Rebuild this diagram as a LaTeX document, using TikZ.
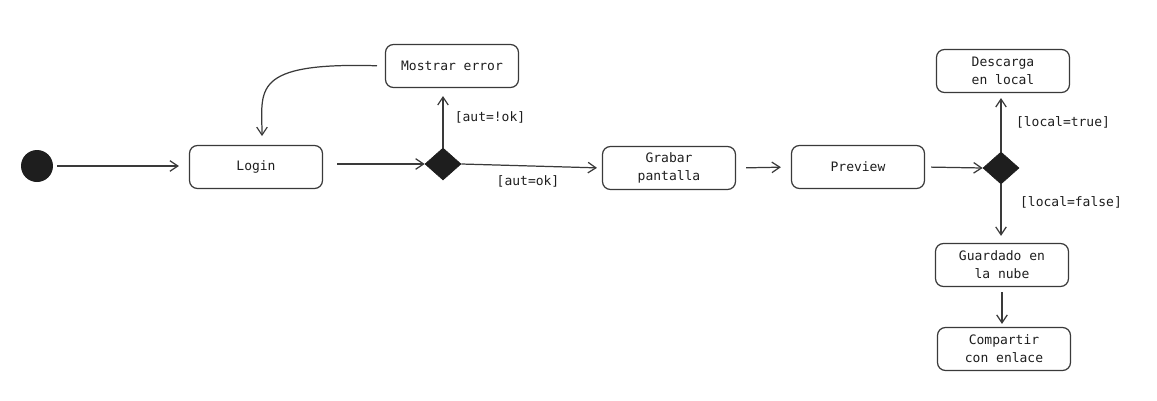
\documentclass[tikz,border=0pt]{standalone}
\usepackage{fontspec}
\setmonofont{DejaVu Sans Mono}
\usetikzlibrary{arrows.meta,shapes.geometric}
\definecolor{ink}{HTML}{3A3A3A}
\definecolor{txt}{HTML}{1E1E1E}
\begin{document}
\begin{tikzpicture}[x=0.02cm,y=-0.02cm,
  state/.style={draw=ink,line width=0.7pt,rounded corners=4.5pt,minimum width=2.66cm,minimum height=0.86cm,inner sep=0pt,font=\ttfamily\fontsize{7.4}{10.2}\selectfont,text=txt,align=center},
  choice/.style={diamond,fill=txt,draw=txt,minimum width=0.72cm,minimum height=0.64cm,inner sep=0pt},
  initial/.style={circle,fill=txt,minimum size=0.64cm,inner sep=0pt},
  flow/.style={draw=ink,line width=0.7pt,-{Straight Barb[length=4.5pt,width=6pt]}},
  guard/.style={font=\ttfamily\fontsize{7.4}{10.2}\selectfont,text=txt,inner sep=0pt}]
\useasboundingbox (0,0) rectangle (1157,400);

\node[initial] (start) at (37,166) {};
\node[state] (login) at (256,167) {Login};
\node[choice] (d1) at (443,164) {};
\node[state] (err) at (452,66) {Mostrar error};
\node[state] (grab) at (669,168) {Grabar\\pantalla};
\node[state] (prev) at (858,167) {Preview};
\node[choice] (d2) at (1001,168) {};
\node[state] (desc) at (1003,71) {Descarga\\en local};
\node[state] (nube) at (1002,265) {Guardado en\\la nube};
\node[state] (comp) at (1004,349) {Compartir\\con enlace};

\node[guard] (g1) at (490,117) {[aut=!ok]};
\node[guard] (g2) at (528,181) {[aut=ok]};
\node[guard] (g3) at (1063,122) {[local=true]};
\node[guard] (g4) at (1071,202) {[local=false]};

\draw[flow,shorten <=2.3pt,shorten >=5.7pt] (start.east) -- (start.east -| login.west);
\draw[flow,shorten <=8pt] (login.east |- d1.west) -- (d1.west);
\draw[flow,shorten >=4.5pt] (d1.north) -- (d1.north |- err.south);
\draw[flow,shorten <=4.5pt,shorten >=5pt] (err.west) .. controls (250,62) and (262,90) .. ([xshift=0.12cm]login.north);
\draw[flow,shorten >=2.8pt] (d1.east) -- (grab.west);
\draw[flow,shorten <=5.7pt,shorten >=5.7pt] (grab.east) -- (prev.west);
\draw[flow,shorten <=3.4pt] (prev.east) -- (d2.west);
\draw[flow,shorten >=2.8pt] (d2.north) -- (d2.north |- desc.south);
\draw[flow,shorten >=4pt] (d2.south) -- (d2.south |- nube.north);
\draw[flow,shorten <=2.8pt,shorten >=1.7pt] (nube.south) -- (nube.south |- comp.north);
\end{tikzpicture}
\end{document}
